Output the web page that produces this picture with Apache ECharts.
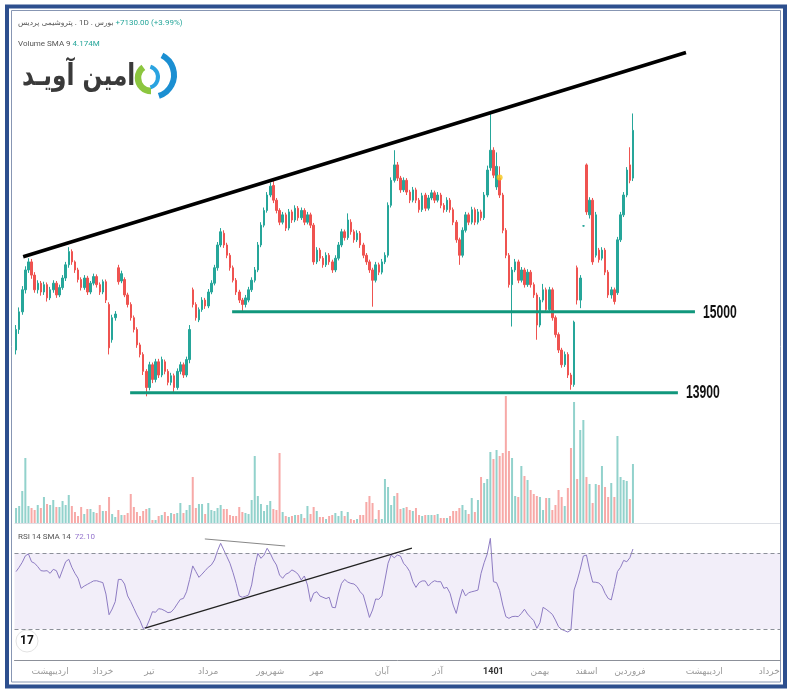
<!DOCTYPE html>
<html><head><meta charset="utf-8">
<script src="https://cdn.jsdelivr.net/npm/echarts@6/dist/echarts.min.js"></script>
<style>html,body{margin:0;padding:0;background:#fff}#c{width:795px;height:696px}</style>
</head><body><div id="c"></div>
<script>
// ---- data ----
// [open, close, low, high]
const candles = [
[14480,14760,14420,14820],[14760,15000,14700,15060],[15000,15300,14960,15350],[15300,15570,15250,15620],[15570,15680,15530,15730],
[15680,15500,15450,15720],[15500,15300,15260,15540],[15300,15390,15250,15430],[15390,15270,15220,15420],[15270,15370,15230,15410],
[15370,15190,15140,15400],[15190,15300,15160,15340],[15300,15390,15260,15430],[15390,15230,15190,15420],[15230,15330,15200,15370],
[15330,15460,15300,15500],[15460,15640,15420,15680],[15640,15820,15600,15880],[15820,15680,15640,15850],[15680,15570,15530,15700],
[15570,15440,15400,15600],[15440,15330,15290,15470],[15330,15460,15300,15500],[15460,15270,15230,15490],[15270,15390,15240,15420],
[15390,15480,15360,15520],[15480,15370,15330,15510],[15370,15270,15230,15400],[15270,15410,15240,15440],[15410,15160,15120,15440],
[15100,14510,14420,15130],[14620,14920,14580,14960],[14920,14970,14880,15010],[15600,15410,15370,15640],[15420,15520,15390,15560],
[15440,15230,15200,15470],[15230,15100,15060,15260],[15100,14920,14880,15130],[14920,14760,14720,14950],[14760,14550,14510,14790],
[14550,14420,14380,14580],[14420,14190,14140,14450],[14190,13970,13850,14220],[13970,14280,13930,14320],[14280,14080,14030,14310],
[14080,14320,14040,14360],[14320,14140,14100,14360],[14140,14350,14110,14390],[14320,14190,14150,14350],[14190,14040,14000,14220],
[14040,14130,14000,14170],[14130,13970,13900,14160],[13970,14190,13940,14230],[14190,14280,14150,14320],[14280,14140,14100,14310],
[14140,14350,14110,14390],[14350,14760,14300,14820],[15300,15100,15060,15330],[15100,14920,14880,15130],[14890,15030,14860,15060],
[15030,15160,15000,15200],[15160,15080,15040,15190],[15080,15270,15050,15310],[15270,15390,15240,15430],[15390,15600,15360,15640],
[15600,15910,15560,15950],[15910,16090,15880,16140],[16070,15910,15870,16110],[15910,15770,15730,15940],[15770,15600,15560,15800],
[15600,15430,15400,15630],[15430,15270,15230,15460],[15270,15160,15120,15300],[15160,15100,14990,15190],[15100,15190,15060,15230],
[15160,15300,15130,15340],[15300,15430,15270,15470],[15430,15570,15400,15610],[15570,15910,15540,15950],[15910,16180,15880,16220],
[16180,16380,16150,16420],[16380,16590,16350,16630],[16590,16710,16560,16760],[16720,16520,16480,16790],[16520,16380,16340,16550],
[16380,16220,16180,16410],[16220,16320,16190,16360],[16320,16140,16100,16350],[16140,16360,16110,16400],[16360,16250,16210,16390],
[16250,16410,16220,16450],[16410,16280,16240,16440],[16280,16380,16250,16420],[16380,16220,16180,16410],[16220,16320,16190,16360],
[16320,16180,16140,16350],[16180,15680,15640,16210],[15680,15840,15650,15880],[15840,15730,15690,15870],[15730,15640,15600,15760],
[15640,15770,15610,15810],[15770,15680,15640,15800],[15680,15570,15530,15710],[15570,15730,15540,15770],[15730,15910,15700,15950],
[15910,16090,15880,16130],[16090,16010,15970,16120],[16010,16250,15980,16340],[16220,16090,16050,16260],[16090,15980,15940,16120],
[15980,16070,15950,16110],[16070,15910,15870,16100],[15910,15770,15730,15940],[15770,15680,15640,15800],[15680,15570,15530,15710],
[15570,15430,15070,15600],[15430,15640,15400,15680],[15640,15540,15500,15670],[15540,15680,15510,15720],[15680,15770,15650,15810],
[15770,16450,15740,16490],[16450,16790,16420,16830],[16790,17000,16760,17200],[17000,16820,16780,17040],[16820,16660,16620,16850],
[16660,16790,16630,16830],[16790,16630,16590,16820],[16630,16520,16480,16660],[16520,16660,16490,16700],[16660,16520,16480,16690],
[16520,16390,16350,16550],[16390,16580,16360,16620],[16590,16410,16370,16620],[16410,16550,16380,16590],[16550,16620,16520,16660],
[16620,16520,16480,16650],[16520,16590,16490,16630],[16590,16450,16410,16620],[16450,16390,16350,16480],[16390,16520,16360,16560],
[16520,16390,16350,16550],[16390,16220,16180,16420],[16220,15980,15940,16250],[15980,15770,15640,16010],[15770,16110,15740,16150],
[16110,16320,16080,16360],[16320,16220,16180,16350],[16220,16390,16190,16430],[16390,16220,16180,16420],[16220,16360,16190,16400],
[16360,16280,16240,16390],[16280,16590,16250,16630],[16590,16930,16560,16990],[16960,17200,16920,17700],[17200,16860,16820,17240],
[16700,16980,16660,17170],[16820,16590,16550,16980],[16590,16110,16070,16620],[16110,15770,15730,16140],[15770,15370,15330,15800],
[15370,15570,14800,15610],[15570,15680,15540,15720],[15680,15430,15390,15710],[15430,15570,15400,15610],[15570,15370,15330,15600],
[15370,15540,15340,15580],[15540,15370,15330,15570],[15370,15230,15190,15400],[15230,14820,14620,15260],[14820,15160,14790,15200],
[15160,15300,15130,15380],[15300,15030,14990,15330],[15030,15300,15000,15340],[15300,14920,14880,15330],[14920,14690,14650,14950],
[14690,14480,14440,14720],[14480,14280,14240,14510],[14280,14420,14250,14460],[14420,14140,14100,14450],[14140,14010,13940,14170],
[14010,14860,13980,14880],[15600,15160,15100,15630],[15160,15460,15050,15500],[16170,16170,16160,16180],[17000,16360,16320,17020],
[16320,16520,16270,16560],[16520,15680,15640,16550],[15770,16320,15740,16360],[15840,15710,15670,15870],[15730,15840,15700,15880],
[15840,15540,15500,15870],[15540,15230,15190,15570],[15230,15300,15180,15340],[15300,15140,15100,15330],[15260,15980,15230,16020],
[15980,16320,15950,16360],[16320,16590,16290,16630],[16590,16930,16560,16970],[17000,16790,16750,17240],[16820,17470,16780,17700]
];
// volume, millions
const volumes = [
1.5,1.7,3.2,6.5,1.7,1.5,1.3,1.8,1.5,2.6, 1.9,1.8,2.3,1.6,1.6,2.2,1.8,2.8,1.7,1.1,
0.7,1.6,0.9,1.4,1.4,1.1,1.0,1.8,1.2,1.2, 2.6,0.9,0.6,1.3,0.8,0.8,1.0,2.9,1.6,1.1,
0.7,1.2,1.4,1.5,0.3,0.3,0.7,0.8,1.1,0.7, 1.0,0.9,1.0,2.0,1.0,1.3,1.8,4.6,1.5,1.9,
1.9,0.9,2.0,1.3,1.2,1.5,1.8,1.4,1.4,0.8, 0.7,0.7,1.6,1.1,1.0,0.9,2.3,6.7,2.7,1.9,
1.2,1.8,2.2,1.4,1.3,7.0,1.1,0.7,0.6,0.7, 0.8,0.8,0.9,0.5,1.7,0.9,1.6,1.2,0.6,0.6,
0.4,0.7,0.8,1.0,0.7,1.2,0.7,1.1,0.4,0.3, 0.4,0.8,0.8,2.1,2.7,2.0,0.4,1.3,0.4,4.4,
3.6,1.8,2.7,3.0,1.4,1.5,1.6,1.3,1.2,1.5, 0.8,0.7,0.8,0.8,0.8,0.8,0.9,0.5,0.5,0.5,
0.7,1.2,1.2,1.5,1.8,1.3,0.9,2.5,1.1,2.3, 4.6,4.0,4.4,7.1,6.4,7.3,6.7,7.0,12.7,7.2,
6.5,2.7,2.6,5.7,4.7,4.3,3.3,2.9,2.7,2.6, 1.3,2.5,2.5,1.3,1.8,3.3,2.6,1.7,3.5,7.5,
12.1,4.4,9.3,10.3,4.6,3.9,2.0,3.9,3.8,5.7, 3.6,2.6,4.0,2.6,8.7,4.6,4.3,4.2,2.4,5.9
];
const rsi = [
60.2,62.5,65.1,68.5,69.5,65.4,64.6,62.8,60.7,60.5, 60.7,59.3,61.4,60.7,56.7,61.1,65.4,66.7,62.5,59.3,
56.7,51.4,52.6,53.5,54.4,55.3,55.4,54.9,54.4,48.4, 37.5,40.5,44.4,56.1,56.1,53.7,47.4,44.4,40.9,37.4,
34.4,30.3,30.9,34.7,39.1,38.8,40.7,40.4,39.6,38.6, 38.9,40.7,43.2,45.6,46.1,49.6,56.1,63.2,60.2,57.2,
58.9,60.7,62.5,63.7,66.3,71.2,75.1,71.6,68.1,64.6, 59.6,54.0,47.4,46.7,47.2,47.9,53.2,62.8,69.8,67.2,
68.9,72.5,69.8,66.3,63.7,58.4,56.7,58.8,59.6,61.1, 60.2,58.8,55.8,57.9,53.2,44.4,48.8,49.6,47.4,46.7,
46.0,46.7,41.4,41.2,48.4,54.0,56.1,54.7,54.0,53.7, 52.3,49.6,47.9,42.1,36.1,40.0,45.8,45.6,47.4,55.8,
64.6,68.9,67.5,68.9,68.4,64.6,62.8,60.2,54.9,51.9, 54.4,55.3,55.3,52.6,54.4,55.4,54.9,54.9,51.4,51.9,
48.8,42.6,38.2,45.3,50.9,47.4,49.1,49.6,50.0,50.5, 59.3,64.9,69.5,77.7,54.9,54.4,50.2,42.6,36.5,35.6,
36.5,36.7,36.5,38.2,40.4,37.9,36.1,34.4,30.4,33.3, 41.4,40.4,39.1,37.7,34.7,31.2,29.8,29.1,28.4,29.5,
50.5,55.4,61.4,68.4,68.9,61.1,54.7,54.6,54.2,52.6, 48.8,46.1,45.3,52.3,60.2,62.5,66.1,65.4,67.5,72.1
];
const futureBars = 47;
// month start (bar index) and label
const monthIdx   = [11, 28, 43, 62, 82, 97, 118, 136, 154, 169, 184, 198, 222, 243];
const monthNames = ['اردیبهشت','خرداد','تیر','مرداد','شهریور','مهر','آبان','آذر','1401','بهمن','اسفند','فروردین','اردیبهشت','خرداد'];
// drawn lines: [barIndex, value]
const priceTrend = [[2.3, 15750], [216.1, 18530]];
const level15000 = [[69.7, 15000], [219.0, 15000]];
const level13900 = [[36.8, 13900], [213.5, 13900]];
const rsiTrend = [[41.6, 30.5], [127.7, 72.6]];
const rsiTopLine = [[60.9, 77.4], [86.8, 73.7]];
const dividendMark = [[156, 16830]];
const rsiBands = [70, 30];

// ---- chart ----
const chart = echarts.init(document.getElementById('c'));
const N = candles.length, M = N + futureBars;
const cats = Array.from({length: M}, (_, i) => 'd' + i);
const tickMap = {};
monthIdx.forEach((i, k) => tickMap[i] = monthNames[k]);
const UP = '#26a69a', DOWN = '#ef5350';
const volData = volumes.map((v, i) => ({
  value: v,
  itemStyle: {color: candles[i][1] >= candles[i][0] ? 'rgba(38,166,154,0.5)' : 'rgba(239,83,80,0.5)'}
}));
const L = 14.5, W = 765.7;
const small = {fontFamily: 'Roboto,sans-serif', fontSize: 8};
const fa = {fontFamily: "'DejaVu Sans',sans-serif", fontSize: 7.5};

chart.setOption({
  animation: false,
  backgroundColor: '#fff',
  grid: [
    {left: L, width: W, top: 40, height: 360},
    {left: L, width: W, top: 393, height: 130},
    {left: L, width: W, top: 524.5, height: 123.5}
  ],
  xAxis: [
    {type: 'category', gridIndex: 0, data: cats, show: false},
    {type: 'category', gridIndex: 1, data: cats, show: false},
    {type: 'category', gridIndex: 2, data: cats, offset: 12,
      axisLine: {show: true, lineStyle: {color: '#8c9099', width: 1}},
      axisTick: {show: false}, splitLine: {show: false},
      axisLabel: {interval: 0, margin: 7, color: '#9a9a9a', fontSize: 9, fontFamily: "'DejaVu Sans',sans-serif",
        formatter: (v, i) => tickMap[i] === undefined ? '' : (tickMap[i] === '1401' ? '{b|1401}' : tickMap[i]),
        rich: {b: {fontWeight: 'bold', color: '#333', fontSize: 9, fontFamily: 'Roboto,sans-serif'}}}},
    {type: 'value', gridIndex: 0, min: -0.5, max: M - 0.5, show: false},
    {type: 'value', gridIndex: 2, min: -0.5, max: M - 0.5, show: false}
  ],
  yAxis: [
    {type: 'value', gridIndex: 0, min: 13800, max: 18700, show: false},
    {type: 'value', gridIndex: 1, min: 0, max: 13, show: false},
    {type: 'value', gridIndex: 2, min: 20, max: 85, show: false}
  ],
  series: [
    {type: 'bar', xAxisIndex: 1, yAxisIndex: 1, data: volData, barWidth: 2, z: 1},
    {type: 'candlestick', xAxisIndex: 0, yAxisIndex: 0, data: candles, barWidth: 2, z: 3,
      itemStyle: {color: UP, color0: DOWN, borderColor: UP, borderColor0: DOWN, borderWidth: 1}},
    {type: 'line', xAxisIndex: 2, yAxisIndex: 2, data: rsi, symbol: 'none', z: 3,
      lineStyle: {color: '#8e7cc3', width: 1},
      markArea: {silent: true, itemStyle: {color: 'rgba(126,87,194,0.1)'}, data: [[{yAxis: rsiBands[1]}, {yAxis: rsiBands[0]}]]},
      markLine: {silent: true, symbol: 'none', label: {show: false},
        lineStyle: {color: '#8c9099', type: [4, 3], width: 1}, data: rsiBands.map(v => ({yAxis: v}))}},
    {type: 'line', xAxisIndex: 3, yAxisIndex: 0, data: priceTrend, symbol: 'none', z: 5,
      lineStyle: {color: '#000', width: 3.5}},
    {type: 'line', xAxisIndex: 3, yAxisIndex: 0, data: level15000, symbol: 'none', z: 5,
      lineStyle: {color: '#11977c', width: 3}},
    {type: 'line', xAxisIndex: 3, yAxisIndex: 0, data: level13900, symbol: 'none', z: 5,
      lineStyle: {color: '#11977c', width: 3}},
    {type: 'line', xAxisIndex: 4, yAxisIndex: 2, data: rsiTrend, symbol: 'none', z: 5,
      lineStyle: {color: '#222', width: 1.3}},
    {type: 'line', xAxisIndex: 4, yAxisIndex: 2, data: rsiTopLine, symbol: 'none', z: 5,
      lineStyle: {color: '#888', width: 1}},
    {type: 'scatter', xAxisIndex: 0, yAxisIndex: 0, data: dividendMark, symbolSize: 6, z: 6,
      itemStyle: {color: '#f5c518'}}
  ],
  graphic: [
    {id: 'frameOuter', type: 'rect', shape: {x: 7, y: 6.5, width: 778, height: 680}, style: {fill: null, stroke: '#2d4f8e', lineWidth: 4}, silent: true},
    {id: 'frameInner', type: 'rect', shape: {x: 11.5, y: 10.5, width: 769, height: 671.5}, style: {fill: null, stroke: '#8796b3', lineWidth: 1}, silent: true},
    {id: 'sep', type: 'line', shape: {x1: 14.5, y1: 523.5, x2: 780, y2: 523.5}, style: {stroke: '#dcdfe5', lineWidth: 1}, silent: true},
    {id: 'hdr1', type: 'text', left: 18, top: 19, style: {
      text: '{a|پتروشیمی پردیس}{g| . 1D . }{a|بورس}{t| +7130.00 (+3.99%)}',
      rich: {a: Object.assign({fill: '#555'}, fa), g: Object.assign({fill: '#555'}, small), t: Object.assign({fill: '#26a69a'}, small)}}},
    {id: 'hdr2', type: 'text', left: 18, top: 40, style: {
      text: '{g|Volume SMA 9}{t| 4.174M}',
      rich: {g: Object.assign({fill: '#555'}, small), t: Object.assign({fill: '#26a69a'}, small)}}},
    {id: 'hdr3', type: 'text', left: 18, top: 533, style: {
      text: '{g|RSI 14 SMA 14}{t|  72.10}',
      rich: {g: Object.assign({fill: '#555'}, small), t: Object.assign({fill: '#9575cd'}, small)}}},
    {id: 'logoText', type: 'text', x: 22, y: 77, scaleX: 0.86, scaleY: 1.1, style: {text: 'امین آویـد', fill: '#3a3a3a', fontSize: 27, fontWeight: 'bold',
      fontFamily: "'DejaVu Sans',sans-serif", align: 'left', verticalAlign: 'middle'}},
    {id: 'logoG', type: 'arc', shape: {cx: 151, cy: 78, r: 13, startAngle: Math.PI * 0.5, endAngle: Math.PI * 1.3}, style: {stroke: '#8cc63f', lineWidth: 6.5, fill: null}},
    {id: 'logoB1', type: 'arc', shape: {cx: 152, cy: 75, r: 22, startAngle: -Math.PI * 0.35, endAngle: Math.PI * 0.4}, style: {stroke: '#1b8fd2', lineWidth: 6, fill: null}},
    {id: 'logoB2', type: 'arc', shape: {cx: 147, cy: 77, r: 11, startAngle: -Math.PI * 0.4, endAngle: Math.PI * 0.4}, style: {stroke: '#2aa3e0', lineWidth: 4, fill: null}},
    {id: 'tvC', type: 'circle', shape: {cx: 27, cy: 641, r: 11}, style: {fill: '#fff', stroke: '#e3e3e3', lineWidth: 1}},
    {id: 'tvT', type: 'text', x: 27, y: 641, style: {text: '17', fill: '#111', fontSize: 12, fontWeight: 'bold', fontFamily: 'Roboto,sans-serif', align: 'center', verticalAlign: 'middle'}}
  ]
});

// level labels placed at the end of each level line, via the chart's own scales
const levelLabels = [[4, level15000, '15000'], [5, level13900, '13900']].map(([si, pts, txt]) => {
  const p = chart.convertToPixel({seriesIndex: si}, pts[1]);
  return {id: 'lvl' + txt, type: 'text', x: p[0] + 8, y: p[1] + 0.5, scaleX: 0.64, z: 10,
    style: {text: txt, fill: '#111', fontSize: 19, fontWeight: 'bold', fontFamily: "'Liberation Sans',Arial,sans-serif", align: 'left', verticalAlign: 'middle'}};
});
chart.setOption({graphic: levelLabels});
</script></body></html>
